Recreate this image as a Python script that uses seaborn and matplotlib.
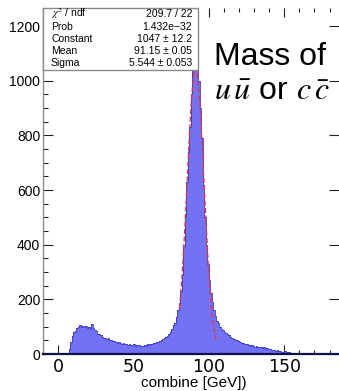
import numpy as np
import pandas as pd
import matplotlib
matplotlib.use("Agg")
import matplotlib.pyplot as plt
import seaborn as sns
from matplotlib.patches import Rectangle

# ---------------- data ----------------
bin_start = 0      # GeV, first bin low edge
bin_width = 1      # GeV
counts = [
    0, 0, 0, 0, 0, 0, 0, 20, 45, 65,            # 0-9
    80, 85, 95, 100, 105, 98, 104, 100, 102, 96,  # 10-19
    98, 92, 110, 95, 88, 85, 75, 72, 68, 62,      # 20-29
    60, 58, 56, 57, 52, 50, 48, 46, 44, 42,       # 30-39
    44, 40, 38, 40, 37, 36, 34, 36, 32, 33,       # 40-49
    35, 30, 32, 34, 30, 28, 30, 33, 29, 36,       # 50-59
    34, 38, 36, 40, 42, 45, 43, 48, 52, 55,       # 60-69
    58, 62, 66, 72, 80, 90, 105, 115, 135, 160,   # 70-79
    185, 230, 290, 395, 500, 630, 740, 830, 950, 1080,  # 80-89
    1160, 1206, 1120, 1000, 900, 790, 620, 500, 400, 330,  # 90-99
    270, 225, 190, 160, 140, 120, 112, 100, 92, 86,  # 100-109
    80, 76, 72, 68, 64, 58, 56, 52, 50, 46,       # 110-119
    44, 40, 42, 38, 35, 36, 33, 30, 32, 28,       # 120-129
    26, 28, 25, 24, 26, 22, 24, 20, 22, 18,       # 130-139
    20, 16, 15, 14, 12, 13, 10, 11, 9, 8,         # 140-149
    10, 7, 6, 7, 5, 4, 4, 3, 2, 2,                # 150-159
    1, 0, 0, 0, 0, 0, 0, 0, 0, 0,                 # 160-169
    0, 0, 0, 0, 0, 0, 0, 0, 0, 0,                 # 170-179
    0, 0, 0, 0, 0,                                # 180-184
]

# Gaussian fit results (from the stat box)
fit_constant = 1047.0
fit_mean = 91.15
fit_sigma = 5.544
fit_range = [80.5, 105.0]

stat_labels = [r"$\chi^2$ / ndf", "Prob", "Constant", "Mean", "Sigma"]
stat_values = ["209.7 / 22", "1.432e\u221232", "1047 \u00b1 12.2",
               "91.15 \u00b1 0.05", "5.544 \u00b1 0.053"]

x_ticks = [0, 50, 100, 150]
y_ticks = [0, 200, 400, 600, 800, 1000, 1200]
x_title = "combine [GeV])"
note_line1 = "Mass of"
note_line2 = r"$u\,\bar{u}$ or $c\,\bar{c}$"

# ---------------- build table ----------------
n = len(counts)
centers = bin_start + bin_width * (np.arange(n) + 0.5)
df = pd.DataFrame({"mass": centers, "n": np.asarray(counts, dtype=float)})
brange = (bin_start, bin_start + n * bin_width)

# ---------------- figure ----------------
sns.set_style("ticks")
plt.rcParams["font.family"] = ["Liberation Sans", "DejaVu Sans"]
plt.rcParams["mathtext.fontset"] = "stix"
plt.rcParams["text.color"] = "black"
plt.rcParams["xtick.color"] = "black"
plt.rcParams["ytick.color"] = "black"

W, H = 339, 391
fig = plt.figure(figsize=(W / 100, H / 100), dpi=100)
fig.patch.set_facecolor("white")
ax = fig.add_axes([43 / W, 37 / H, (W - 43) / W, 346 / H])

fill_col = "#7272f4"
edge_col = "#3434d8"
sns.histplot(data=df, x="mass", weights="n", binwidth=bin_width,
             binrange=brange, element="step",
             fill=True, color=fill_col, alpha=1.0, linewidth=0, ax=ax)
sns.histplot(data=df, x="mass", weights="n", binwidth=bin_width,
             binrange=brange, element="step",
             fill=False, color=edge_col, linewidth=0.6, ax=ax)

# fitted gaussian
xf = np.linspace(fit_range[0], fit_range[1], 300)
yf = fit_constant * np.exp(-0.5 * ((xf - fit_mean) / fit_sigma) ** 2)
sns.lineplot(x=xf, y=yf, color="#ff2a2a", linewidth=0.9, linestyle=(0, (4, 2)),
             ax=ax, sort=False)

ax.set_xlim(-10, 186.3)
ax.set_ylim(0, 1266)
ax.set_xlabel("")
ax.set_ylabel("")

# spines
ax.spines["top"].set_visible(False)
ax.spines["right"].set_visible(False)
ax.spines["left"].set_color("#8a8a8a")
ax.spines["left"].set_linewidth(1.0)
ax.spines["bottom"].set_color("#10104a")
ax.spines["bottom"].set_linewidth(1.6)

ax.set_xticks(x_ticks)
ax.set_xticks(np.arange(-10, 187, 10), minor=True)
ax.set_yticks(y_ticks)
ax.set_yticks(np.arange(0, 1266, 50), minor=True)
ax.tick_params(axis="x", which="major", direction="in", length=6.5, width=0.8,
               top=True, bottom=True, labelsize=12.5, pad=3,
               color="#222222", labelcolor="black")
ax.tick_params(axis="x", which="minor", direction="in", length=3, width=0.8,
               top=True, bottom=True, color="#222222")
ax.tick_params(axis="y", which="major", direction="in", length=7, width=0.8,
               left=True, right=True, labelsize=10, pad=2,
               color="#222222", labelcolor="black")
ax.tick_params(axis="y", which="minor", direction="in", length=3.5, width=0.8,
               left=True, right=False, color="#222222")
for lab in ax.get_xticklabels():
    lab.set_fontfamily(["DejaVu Sans"])

# x title
fig.text(194 / W, 1 - 383 / H, x_title, ha="center", va="center", fontsize=11,
         color="black")

# stat box (pixel coordinates converted to figure fraction)
bx0, bx1, by0, by1 = 43, 198, 8, 70
box = Rectangle((bx0 / W, 1 - by1 / H), (bx1 - bx0) / W, (by1 - by0) / H,
                transform=fig.transFigure, facecolor="white",
                edgecolor="#8a8a8a", linewidth=1.0, zorder=5)
fig.patches.append(box)
row_y = [14, 26.5, 39, 51.5, 63]
for lab, val, yy in zip(stat_labels, stat_values, row_y):
    fig.text(51 / W, 1 - yy / H, lab, ha="left", va="center", fontsize=7.5,
             zorder=6, color="black")
    fig.text(192 / W, 1 - yy / H, val, ha="right", va="center", fontsize=7.5,
             zorder=6, color="black")

# annotation text
fig.text(214 / W, 1 - 65 / H, note_line1, ha="left", va="baseline",
         fontsize=23, color="black")
fig.text(214 / W, 1 - 100 / H, note_line2, ha="left", va="baseline",
         fontsize=23, color="black")

fig.savefig("out.png", dpi=100, facecolor="white")
